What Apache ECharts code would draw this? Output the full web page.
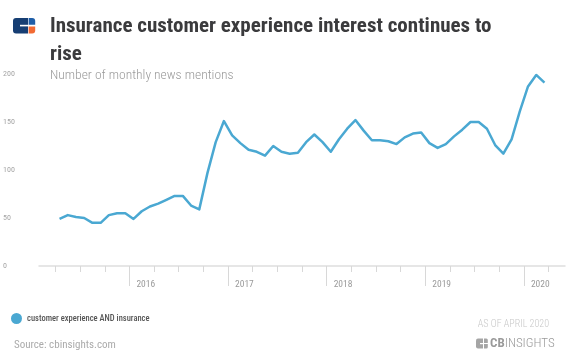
<!DOCTYPE html>
<html>
<head>
<meta charset="utf-8">
<script src="https://cdn.jsdelivr.net/npm/echarts@6/dist/echarts.min.js"></script>
<style>
html,body{margin:0;padding:0;background:#fff;}
#chart{width:572px;height:364px;}
</style>
</head>
<body>
<div id="chart"></div>
<script>
// ---- data ----
const months = [
  '2015-04','2015-05','2015-06','2015-07','2015-08','2015-09','2015-10','2015-11','2015-12',
  '2016-01','2016-02','2016-03','2016-04','2016-05','2016-06','2016-07','2016-08','2016-09','2016-10','2016-11','2016-12',
  '2017-01','2017-02','2017-03','2017-04','2017-05','2017-06','2017-07','2017-08','2017-09','2017-10','2017-11','2017-12',
  '2018-01','2018-02','2018-03','2018-04','2018-05','2018-06','2018-07','2018-08','2018-09','2018-10','2018-11','2018-12',
  '2019-01','2019-02','2019-03','2019-04','2019-05','2019-06','2019-07','2019-08','2019-09','2019-10','2019-11','2019-12',
  '2020-01','2020-02','2020-03'
];
const mentions = [
  49,53,51,50,45,45,53,55,55,
  49,57,62,65,69,73,73,63,59,97,129,151,
  136,128,121,119,115,125,119,117,118,129,137,129,
  119,132,143,152,141,131,131,130,127,134,138,139,
  128,123,127,135,142,150,150,143,126,117,132,161,
  187,199,191
];
const seriesName = 'customer experience AND insurance';
const yearLabels = ['2016','2017','2018','2019','2020'];
const yTicks = [0, 50, 100, 150, 200];

// ---- helpers: convert to axis domain (months since Jan 2015) ----
const BASE_YEAR = 2015;
function monthValue(s) {
  const [y, m] = s.split('-').map(Number);
  return (y - BASE_YEAR) * 12 + (m - 1) + 0.5; // mid-month
}
function yearValue(y) { return (Number(y) - BASE_YEAR) * 12; }
const yearTicks = yearLabels.map(yearValue);
const quarterTicks = [];
for (let v = 3; v < 65; v += 3) quarterTicks.push(v);

const seriesData = months.map((m, i) => [monthValue(m), mentions[i]]);

const FONT = "'Roboto Condensed','Liberation Sans Narrow','DejaVu Sans Condensed',Roboto,sans-serif";
const LINE = '#4aa8d2';

const chart = echarts.init(document.getElementById('chart'), null, {renderer: 'canvas'});
chart.setOption({
  animation: false,
  backgroundColor: '#fff',
  grid: {left: 39, right: 7, top: 74, bottom: 98, containLabel: false},
  legend: {
    data: [seriesName],
    left: 6, top: 308,
    icon: 'circle', itemWidth: 11, itemHeight: 11, itemGap: 5,
    textStyle: {fontFamily: FONT, fontSize: 8.5, color: '#555', fontWeight: 500}
  },
  xAxis: [
    {
      type: 'value', min: 1, max: 65, position: 'bottom', offset: 3,
      axisLine: {show: true, lineStyle: {color: '#dedede', width: 1.5}},
      axisTick: {show: true, customValues: quarterTicks, length: 6, lineStyle: {color: '#d8d8d8', width: 1}},
      axisLabel: {show: false},
      splitLine: {show: false}
    },
    {
      type: 'value', min: 1, max: 65, position: 'bottom', offset: 3,
      axisLine: {show: false},
      axisTick: {show: true, customValues: yearTicks, length: 17, lineStyle: {color: '#d8d8d8', width: 1}},
      axisLabel: {
        show: true, customValues: yearTicks, margin: 11, align: 'left',
        padding: [0, 0, 0, 7],
        fontFamily: FONT, fontSize: 9.5, color: '#9a9a9a',
        formatter: v => yearLabels[yearTicks.indexOf(v)]
      },
      splitLine: {show: false}
    }
  ],
  yAxis: {
    type: 'value', min: 0, max: 200, interval: 50,
    axisLine: {show: false}, axisTick: {show: false}, splitLine: {show: false},
    axisLabel: {
      margin: 36, align: 'left', fontFamily: FONT, fontSize: 8, color: '#a5a5a5',
      formatter: v => (yTicks.indexOf(v) >= 0 ? String(v) : '')
    }
  },
  series: [{
    name: seriesName, type: 'line', xAxisIndex: 0, data: seriesData,
    showSymbol: false, symbol: 'circle', symbolSize: 6,
    itemStyle: {color: LINE},
    lineStyle: {color: LINE, width: 2.5, join: 'round'}
  }],
  graphic: [
    // CB Insights logo (top-left)
    {type: 'rect', shape: {x: 13, y: 18, width: 15, height: 15.5, r: [3, 0, 0, 3]}, style: {fill: '#163e73'}},
    {type: 'rect', shape: {x: 20, y: 24.8, width: 8.5, height: 1.6}, style: {fill: '#fff'}},
    {type: 'rect', shape: {x: 28.6, y: 18, width: 6.6, height: 6.8, r: [0, 3, 0, 0]}, style: {fill: '#1f5ea8'}},
    {type: 'rect', shape: {x: 28.6, y: 26.4, width: 6.6, height: 7.1, r: [0, 0, 3, 0]}, style: {fill: '#f26a33'}},
    // title
    {type: 'text', x: 50, y: 26.5, style: {text: 'Insurance customer experience interest continues to', font: 'bold 21px ' + FONT, fill: '#3b3b3d', verticalAlign: 'middle'}},
    {type: 'text', x: 50, y: 55, style: {text: 'rise', font: 'bold 21px ' + FONT, fill: '#3b3b3d', verticalAlign: 'middle'}},
    {type: 'text', x: 50, y: 75.5, style: {text: 'Number of monthly news mentions', font: '300 13.5px ' + FONT, fill: '#9a9a9a', verticalAlign: 'middle'}},
    // footer
    {type: 'text', x: 14, y: 345, style: {text: 'Source: cbinsights.com', font: '11px ' + FONT, fill: '#ababab', verticalAlign: 'middle'}},
    {type: 'text', x: 549, y: 324.5, style: {text: 'AS OF APRIL 2020', font: '300 10px ' + FONT, fill: '#c8c8c8', verticalAlign: 'middle', align: 'right'}},
    // CB Insights wordmark (bottom-right)
    {type: 'rect', shape: {x: 476, y: 338.5, width: 7, height: 10, r: [2, 0, 0, 2]}, style: {fill: '#a5a5a5'}},
    {type: 'rect', shape: {x: 480, y: 343, width: 3.5, height: 1.2}, style: {fill: '#fff'}},
    {type: 'rect', shape: {x: 484, y: 338.5, width: 3.8, height: 4.4, r: [0, 1.5, 0, 0]}, style: {fill: '#a5a5a5'}},
    {type: 'rect', shape: {x: 484, y: 344, width: 3.8, height: 4.5, r: [0, 0, 1.5, 0]}, style: {fill: '#a5a5a5'}},
    {type: 'text', x: 490, y: 343.5, style: {
      text: '{b|CB}{n|INSIGHTS}', verticalAlign: 'middle',
      rich: {
        b: {font: 'bold 13px ' + FONT, fill: '#9a9a9a'},
        n: {font: '300 13px ' + FONT, fill: '#9a9a9a'}
      }
    }}
  ]
});
</script>
</body>
</html>
